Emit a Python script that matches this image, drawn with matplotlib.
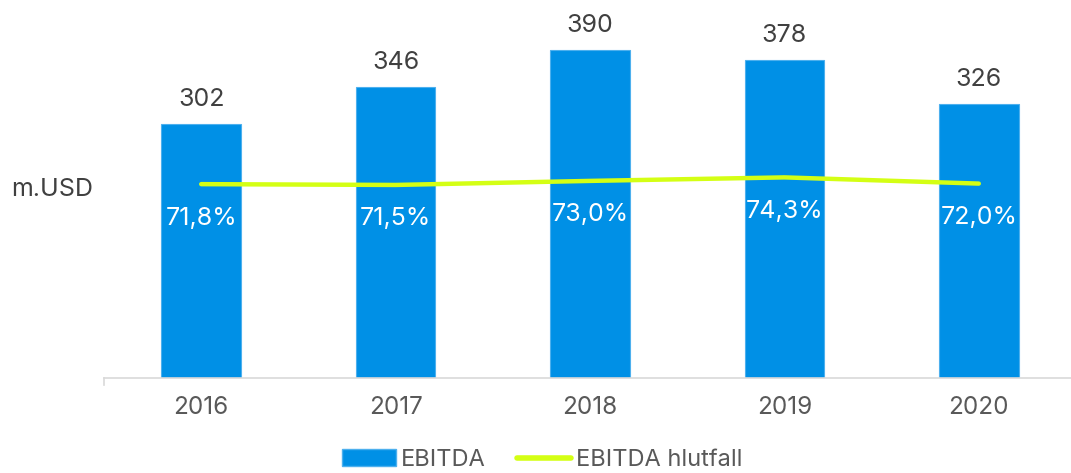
import matplotlib
matplotlib.use("Agg")
import matplotlib.pyplot as plt
from matplotlib.patches import Patch
from matplotlib.lines import Line2D

years = ["2016", "2017", "2018", "2019", "2020"]
ebitda = [302, 346, 390, 378, 326]
ratio = [71.8, 71.5, 73.0, 74.3, 72.0]
ratio_labels = ["71,8%", "71,5%", "73,0%", "74,3%", "72,0%"]

plt.rcParams['font.family'] = ['Inter', 'DejaVu Sans']

W, H = 1071, 473
fig = plt.figure(figsize=(W/100, H/100), dpi=100)
ax = fig.add_axes([104/W, 95/H, 972/W, 378/H])
ax2 = ax.twinx()

bar_color = "#0090E6"
line_color = "#D4FF14"
x = list(range(len(years)))

ax.bar(x, ebitda, width=0.41, color=bar_color, edgecolor="#4DB0EE", linewidth=0.8, zorder=2)
ax.set_ylim(0, 450)
ax.set_xlim(-0.5, 4.5)
for xi, v in zip(x, ebitda):
    ax.annotate(str(v), (xi, v), xytext=(0, 25), textcoords="offset pixels",
                ha="center", va="center", fontsize=18, color="#404040")

ax2.plot(x, ratio, color=line_color, linewidth=3.2, solid_capstyle="round", zorder=3)
ax2.set_ylim(0, 140)
for xi, v, lab in zip(x, ratio, ratio_labels):
    ax2.annotate(lab, (xi, v), xytext=(0, -34), textcoords="offset pixels",
                 ha="center", va="center", fontsize=18, color="white")

for a in (ax, ax2):
    for s in ["top", "right", "left"]:
        a.spines[s].set_visible(False)
    a.set_yticks([])
ax2.spines["bottom"].set_visible(False)
ax.spines["bottom"].set_color("#D9D9D9")
ax.spines["bottom"].set_linewidth(1.2)
ax.set_xticks(x)
ax.set_xticklabels(years, fontsize=17.5, color="#595959")
ax.tick_params(axis="x", length=0, pad=13)
# small tick at left end of axis
ax.plot([-0.5, -0.5], [0, -8], color="#D9D9D9", lw=1.2, clip_on=False)

fig.text(52/W, 1 - 190/H, "m.USD", ha="center", va="center", fontsize=18, color="#404040")

handles = [Patch(facecolor=bar_color, edgecolor="#4DB0EE", label="EBITDA"),
           Line2D([0], [0], color=line_color, lw=4, solid_capstyle="round", label="EBITDA hlutfall")]
fig.legend(handles=handles, loc="center", bbox_to_anchor=(542/W, 1 - 460/H), ncol=2,
           frameon=False, fontsize=17, labelcolor="#595959", handlelength=2.3,
           handletextpad=0.2, columnspacing=1.3)

fig.savefig("out.png", dpi=100)
